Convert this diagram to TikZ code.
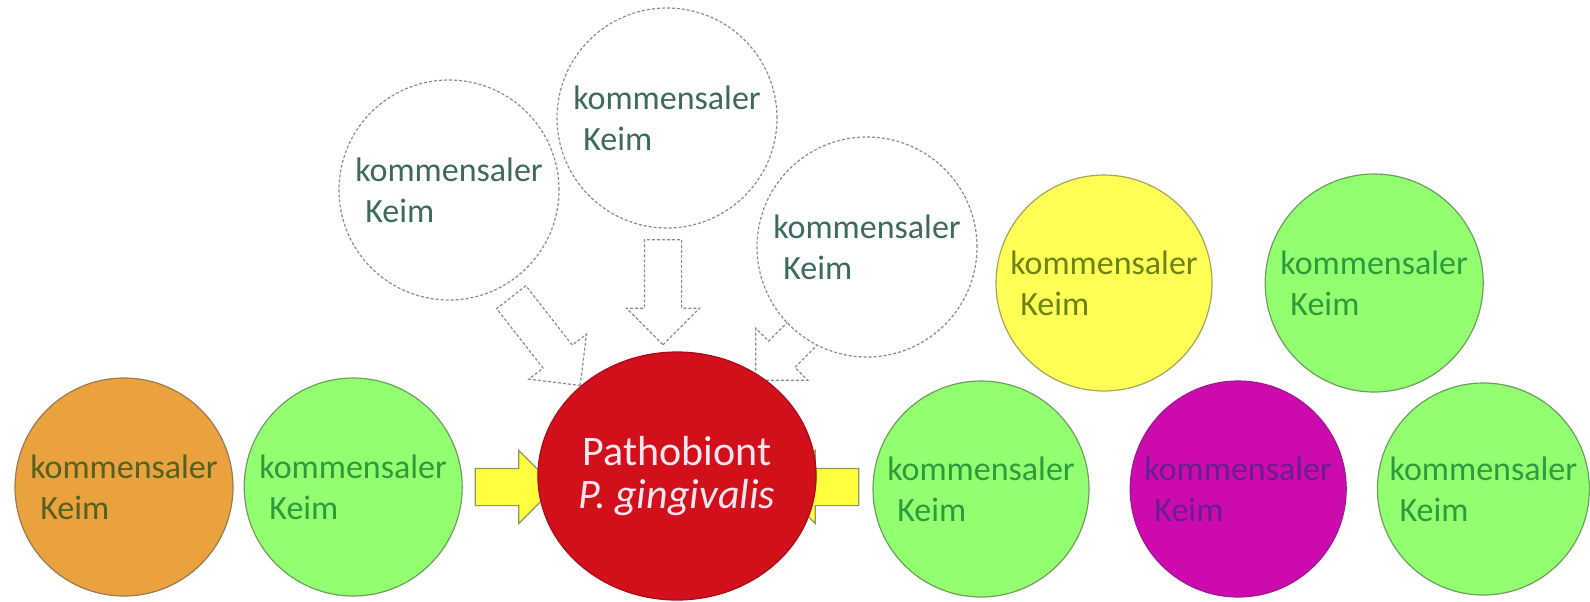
\documentclass[tikz,border=0pt]{standalone}
\usepackage{fontspec}
\setmainfont{Carlito}
\usetikzlibrary{positioning,shapes.geometric,shapes.arrows,backgrounds}
\definecolor{KeimGruen}{HTML}{92FF70}
\definecolor{KeimGruenRand}{HTML}{6E9E5E}
\definecolor{KeimGruenText}{HTML}{2F9A3A}
\definecolor{KeimOrange}{HTML}{E9A23D}
\definecolor{KeimOrangeRand}{HTML}{9C7A4E}
\definecolor{KeimOrangeText}{HTML}{56601F}
\definecolor{KeimGelb}{HTML}{FFFF55}
\definecolor{KeimGelbRand}{HTML}{A8A45A}
\definecolor{KeimGelbText}{HTML}{6C8416}
\definecolor{KeimLila}{HTML}{CC0AAE}
\definecolor{KeimLilaRand}{HTML}{9C1A90}
\definecolor{KeimLilaText}{HTML}{6A1E8C}
\definecolor{PathoRot}{HTML}{D2101C}
\definecolor{PathoRand}{HTML}{A80C18}
\definecolor{PathoText}{HTML}{FFE6EE}
\definecolor{StrichGrau}{HTML}{8C8C8C}
\definecolor{LeerText}{HTML}{3E6A5E}
\definecolor{PfeilGelb}{HTML}{FFFF40}
\definecolor{PfeilRand}{HTML}{8C9A5A}
\newcommand{\keimtext}{kommensaler\\\hspace*{5pt}Keim}

\begin{document}
\begin{tikzpicture}[x=0.5pt,y=-0.5pt,
    keim/.style={circle,draw,line width=0.6pt,minimum size=109pt,inner sep=0pt,
      align=left,font=\fontsize{17}{20.5}\selectfont},
    gruen/.style={keim,fill=KeimGruen,draw=KeimGruenRand,text=KeimGruenText},
    leer/.style={keim,minimum size=110pt,fill=white,draw=StrichGrau,
      dash pattern=on 1.5pt off 1pt,text=LeerText},
    blockpfeil/.style={single arrow,single arrow head extend=9pt,inner sep=9pt,
      line width=0.6pt},
    gelbpfeil/.style={blockpfeil,fill=PfeilGelb,draw=PfeilRand,minimum height=40pt},
    leerpfeil/.style={blockpfeil,fill=white,draw=StrichGrau,
      dash pattern=on 1.5pt off 1pt}
  ]
    \useasboundingbox (0,0) rectangle (1590,601);
    % untere Reihe
    \node[keim,fill=KeimOrange,draw=KeimOrangeRand,text=KeimOrangeText] (orange) at (124,487) {\keimtext};
    \node[gruen,right=5pt of orange] (gruenA) {\keimtext};
    \node[ellipse,draw=PathoRand,fill=PathoRot,line width=0.6pt,inner sep=0pt,
      minimum width=136pt,minimum height=124pt,align=center,text=PathoText,
      font=\fontsize{21}{21.5}\selectfont] (patho) at (677,476) {Pathobiont\\\textit{P. gingivalis}};
    \node[gruen,minimum size=108pt] (gruenC) at (981,489) {\keimtext};
    \node[keim,minimum size=108pt,fill=KeimLila,draw=KeimLilaRand,text=KeimLilaText,
      right=20pt of gruenC] (lila) {\keimtext};
    \node[gruen,minimum size=106pt,right=15pt of lila] (gruenD) {\keimtext};
    % obere Reihe
    \node[keim,minimum size=108pt,fill=KeimGelb,draw=KeimGelbRand,text=KeimGelbText] (gelb) at (1104,283) {\keimtext};
    \node[gruen,right=26pt of gelb] (gruenB) {\keimtext};
    % gestrichelte Keime
    \node[leer] (leerA) at (449,190) {\keimtext};
    \node[leer] (leerB) at (667,118) {\keimtext};
    \node[leer] (leerC) at (867,247) {\keimtext};
    \begin{scope}[on background layer]
      \node[gelbpfeil] (pfeilL) at (506,487) {};
      \node[gelbpfeil,rotate=180] (pfeilR) at (828,487) {};
      \node[leerpfeil,minimum height=56pt,rotate=-52] (pfeilA) at (540,334) {};
      \node[leerpfeil,minimum height=52.5pt,rotate=-90] (pfeilB) at (663,283) {};
      \node[leerpfeil,minimum height=56pt,rotate=-135] (pfeilC) at (802,334) {};
    \end{scope}
\end{tikzpicture}
\end{document}
